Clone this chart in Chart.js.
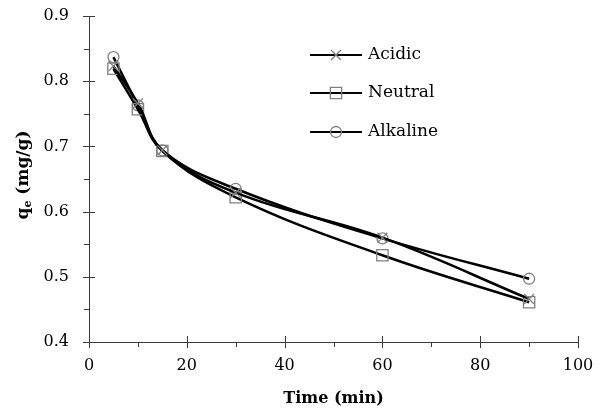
<!DOCTYPE html>
<html>
<head>
<meta charset="utf-8">
<script src="https://cdn.jsdelivr.net/npm/chart.js@4.4.0/dist/chart.umd.min.js"></script>
<style>
  body { margin: 0; background: #fff; }
  canvas { display: block; }
</style>
</head>
<body>
<canvas id="qeChart" width="612" height="415"></canvas>
<script>
// data
const times = [5, 10, 15, 30, 60, 90];
const acidic = [0.823, 0.766, 0.694, 0.629, 0.560, 0.466];
const neutral = [0.819, 0.757, 0.693, 0.622, 0.533, 0.461];
const alkaline = [0.837, 0.763, 0.694, 0.635, 0.559, 0.497];
const seriesNames = ['Acidic', 'Neutral', 'Alkaline'];
const xTicks = [0, 20, 40, 60, 80, 100];
const yTicks = [0.4, 0.5, 0.6, 0.7, 0.8, 0.9];

const axisColor = '#3a3a3a';
const markerColor = '#808080';
const FONT = "'DejaVu Serif', serif";

function toPoints(values) {
    return times.map((t, i) => ({ x: t, y: values[i] }));
}

function series(label, values, style, radius) {
    return {
        label: label,
        data: toPoints(values),
        showLine: true,
        borderColor: '#000',
        borderWidth: 2.5,
        tension: 0.4,
        pointStyle: style,
        pointRadius: radius,
        pointBorderColor: markerColor,
        pointBackgroundColor: 'rgba(0,0,0,0)',
        pointBorderWidth: 1.3
    };
}

const datasets = [
    series(seriesNames[0], acidic, 'crossRot', 7),
    series(seriesNames[1], neutral, 'rect', 8),
    series(seriesNames[2], alkaline, 'circle', 5.5)
];

// tick marks: major cross the axis, minor outside only
const axisTicks = {
    id: 'axisTicks',
    afterDraw(chart) {
        const { ctx, chartArea } = chart;
        const x = chart.scales.x, y = chart.scales.y;
        ctx.save();
        ctx.strokeStyle = axisColor;
        ctx.lineWidth = 1;
        ctx.beginPath();
        for (let i = 0; i < xTicks.length; i++) {
            const px = Math.round(x.getPixelForValue(xTicks[i])) + 0.5;
            ctx.moveTo(px, chartArea.bottom - 6);
            ctx.lineTo(px, chartArea.bottom + 6);
            if (i < xTicks.length - 1) {
                const mid = (xTicks[i] + xTicks[i + 1]) / 2;
                const pm = Math.round(x.getPixelForValue(mid)) + 0.5;
                ctx.moveTo(pm, chartArea.bottom);
                ctx.lineTo(pm, chartArea.bottom + 5);
            }
        }
        for (let i = 0; i < yTicks.length; i++) {
            const py = Math.round(y.getPixelForValue(yTicks[i])) + 0.5;
            ctx.moveTo(chartArea.left - 6, py);
            ctx.lineTo(chartArea.left + 6, py);
            if (i < yTicks.length - 1) {
                const mid = (yTicks[i] + yTicks[i + 1]) / 2;
                const pm = Math.round(y.getPixelForValue(mid)) + 0.5;
                ctx.moveTo(chartArea.left - 5, pm);
                ctx.lineTo(chartArea.left, pm);
            }
        }
        ctx.stroke();
        ctx.restore();
    }
};

// axis titles (q with subscript e) and the in-plot legend
const titlesAndLegend = {
    id: 'titlesAndLegend',
    afterDraw(chart) {
        const { ctx, chartArea } = chart;
        ctx.save();
        ctx.fillStyle = '#000';

        // x title
        ctx.font = 'bold 16px ' + FONT;
        ctx.textAlign = 'center';
        ctx.textBaseline = 'middle';
        ctx.fillText('Time (min)', (chartArea.left + chartArea.right) / 2, 399);

        // y title
        ctx.translate(23, (chartArea.top + chartArea.bottom) / 2 - 4);
        ctx.rotate(-Math.PI / 2);
        ctx.textAlign = 'left';
        ctx.textBaseline = 'alphabetic';
        const big = 'bold 17px ' + FONT, small = 'bold 11px ' + FONT;
        ctx.font = big;
        const wq = ctx.measureText('q').width;
        const wRest = ctx.measureText(' (mg/g)').width;
        ctx.font = small;
        const we = ctx.measureText('e').width;
        let cx = -(wq + we + wRest) / 2;
        const base = 5;
        ctx.font = big;
        ctx.fillText('q', cx, base);
        cx += wq;
        ctx.font = small;
        ctx.fillText('e', cx, base + 3);
        cx += we;
        ctx.font = big;
        ctx.fillText(' (mg/g)', cx, base);
        ctx.restore();

        // legend
        ctx.save();
        const rowY = [55, 93, 132];
        chart.data.datasets.forEach((ds, i) => {
            const yy = rowY[i];
            ctx.strokeStyle = '#000';
            ctx.lineWidth = 2;
            ctx.beginPath();
            ctx.moveTo(310, yy);
            ctx.lineTo(362, yy);
            ctx.stroke();
            ctx.strokeStyle = markerColor;
            ctx.fillStyle = 'rgba(0,0,0,0)';
            ctx.lineWidth = 1.3;
            Chart.helpers.drawPoint(ctx, {
                pointStyle: ds.pointStyle,
                radius: ds.pointRadius,
                borderWidth: 1.3,
                rotation: 0
            }, 336, yy);
            ctx.fillStyle = '#000';
            ctx.font = '17px ' + FONT;
            ctx.textAlign = 'left';
            ctx.textBaseline = 'middle';
            ctx.fillText(ds.label, 368, yy);
        });
        ctx.restore();
    }
};

const ctx = document.getElementById('qeChart').getContext('2d');
new Chart(ctx, {
    type: 'scatter',
    data: { datasets: datasets },
    options: {
        responsive: false,
        animation: false,
        devicePixelRatio: 1,
        layout: { padding: { top: 16, right: 34, left: 0, bottom: 0 } },
        plugins: {
            legend: { display: false },
            tooltip: { enabled: false }
        },
        scales: {
            x: {
                type: 'linear',
                min: 0,
                max: 100,
                afterFit: (scale) => { scale.height = 73; },
                grid: { display: false, drawTicks: false },
                border: { display: true, color: axisColor, width: 1 },
                ticks: {
                    stepSize: 20,
                    padding: 14,
                    color: '#000',
                    font: { family: FONT, size: 16 }
                }
            },
            y: {
                min: 0.4,
                max: 0.9,
                afterFit: (scale) => {
                    scale.width = 89;
                    scale.paddingTop = 0;
                    scale.paddingBottom = 0;
                },
                grid: { display: false, drawTicks: false },
                border: { display: true, color: axisColor, width: 1 },
                ticks: {
                    stepSize: 0.1,
                    padding: 20,
                    color: '#000',
                    font: { family: FONT, size: 16 },
                    callback: (v) => Number(v).toFixed(1)
                }
            }
        }
    },
    plugins: [axisTicks, titlesAndLegend]
});
</script>
</body>
</html>
